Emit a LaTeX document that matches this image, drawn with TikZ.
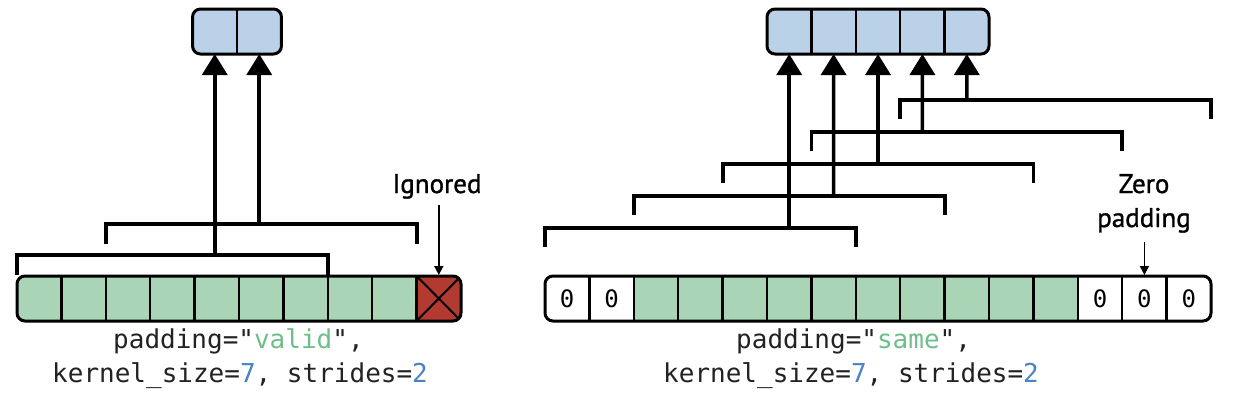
\documentclass[tikz,border=0pt]{standalone}
\usepackage{fontspec}
\usetikzlibrary{arrows.meta}
\newfontfamily\codefont{DejaVu Sans Mono}
\newfontfamily\lblfont[FakeBold=1.2]{PT Sans}
\definecolor{cellgreen}{HTML}{A9D4B6}
\definecolor{cellblue}{HTML}{BBD1E8}
\definecolor{cellred}{HTML}{B23A30}
\definecolor{codegreen}{HTML}{6DBE8A}
\definecolor{codeblue}{HTML}{4A82C6}
\definecolor{codeink}{HTML}{222222}
\begin{document}
\begin{tikzpicture}[x=1pt,y=-1pt,
  cell/.style={inner sep=0pt, outer sep=0pt, minimum width=44.4pt, minimum height=45pt,
    font=\codefont\fontsize{24}{24}\selectfont},
  divider/.style={line width=2.4pt},
  frame/.style={line width=3pt, rounded corners=8pt},
  brk/.style={line width=3.8pt},
  bigarr/.style={line width=3.6pt, -{Triangle[width=25pt,length=21pt]}},
  thinarr/.style={line width=1.6pt, -{Triangle[width=9pt,length=9pt]}},
  code/.style={anchor=base west, inner sep=0pt, text=codeink, font=\codefont\fontsize{26}{26}\selectfont},
  lbl/.style={inner sep=0pt, font=\lblfont\fontsize{27}{33}\selectfont, align=center}
]
\useasboundingbox (0,0) rectangle (1260,413);

% ================= LEFT: valid =================
\begin{scope}
\clip[rounded corners=8pt] (17,276) rectangle (461,321);
\foreach \i in {0,...,8} \node[cell, fill=cellgreen] (L\i) at ({39.2+44.4*\i},298.5) {};
\node[cell, fill=cellred] (L9) at ({39.2+44.4*9},298.5) {};
\draw[line width=2pt] (L9.north west) -- (L9.south east) (L9.south west) -- (L9.north east);
\end{scope}
\foreach \i in {1,...,9} \draw[divider] (L\i.north west) -- (L\i.south west);
\draw[frame] (L0.north west) rectangle (L9.south east);

% output left
\begin{scope}
\clip[rounded corners=8pt] (192.5,9) rectangle (281.5,54);
\node[cell, fill=cellblue] (O0) at (214.75,31.5) {};
\node[cell, fill=cellblue] (O1) at (259.25,31.5) {};
\end{scope}
\draw[divider] (O1.north west) -- (O1.south west);
\draw[frame] (O0.north west) rectangle (O1.south east);

% brackets left
\coordinate (lb1) at (214.75,255);
\coordinate (lb2) at (259.25,224);
\draw[brk] (L0.north west |- 0,275) |- (lb1) -| (L6.north east);
\draw[brk] (L2.north west |- 0,244) |- (lb2) -| (L8.north east |- 0,244);
\draw[bigarr] (lb1) -- (O0.south);
\draw[bigarr] (lb2) -- (O1.south);

% ignored label
\node[lbl, anchor=base] (ign) at (437,193) {Ignored};
\draw[thinarr] (L9.north |- 0,205) -- ([yshift=1pt]L9.north);

% code label left
\node[code] (cl1) at (113,348) {padding="\textcolor{codegreen}{valid}",};
\node[code] (cl2) at (52,382) {kernel\_size=\textcolor{codeblue}{7}, strides=\textcolor{codeblue}{2}};

% ================= RIGHT: same =================
\begin{scope}
\clip[rounded corners=8pt] (545,276) rectangle (1211,321);
\foreach \i in {0,1,12,13,14} \node[cell, fill=white] (R\i) at ({567.2+44.4*\i},298.5) {0};
\foreach \i in {2,...,11} \node[cell, fill=cellgreen] (R\i) at ({567.2+44.4*\i},298.5) {};
\end{scope}
\foreach \i in {1,...,14} \draw[divider] (R\i.north west) -- (R\i.south west);
\draw[frame] (R0.north west) rectangle (R14.south east);

% output right
\begin{scope}
\clip[rounded corners=8pt] (767,9.5) rectangle (989,53.5);
\foreach \i in {0,...,4} \node[cell, fill=cellblue] (P\i) at ({789.2+44.4*\i},31.5) {};
\end{scope}
\foreach \i in {1,...,4} \draw[divider] (P\i.north west) -- (P\i.south west);
\draw[frame] (P0.north west) rectangle (P4.south east);

% brackets right
\coordinate (rb0) at (789.2,228);
\coordinate (rb1) at (833.6,196);
\coordinate (rb2) at (878.0,164);
\coordinate (rb3) at (922.4,132);
\coordinate (rb4) at (966.8,100);
\draw[brk] (R0.north west |- 0,247) |- (rb0) -| (R6.north east |- 0,247);
\draw[brk] (R2.north west |- 0,215) |- (rb1) -| (R8.north east |- 0,215);
\draw[brk] (R4.north west |- 0,183) |- (rb2) -| (R10.north east |- 0,183);
\draw[brk] (R6.north west |- 0,151) |- (rb3) -| (R12.north east |- 0,151);
\draw[brk] (R8.north west |- 0,119) |- (rb4) -| (R14.north east |- 0,119);
\draw[bigarr] (rb0) -- (P0.south);
\draw[bigarr] (rb1) -- (P1.south);
\draw[bigarr] (rb2) -- (P2.south);
\draw[bigarr] (rb3) -- (P3.south);
\draw[bigarr] (rb4) -- (P4.south);

% zero padding label
\node[lbl, anchor=base] (zp) at (1144,193) {Zero};
\node[lbl, anchor=base] (zp2) at (1144,227) {padding};
\draw[thinarr] (R13.north |- 0,242) -- ([yshift=1pt]R13.north);

% code label right
\node[code] (cr1) at (736,348) {padding="\textcolor{codegreen}{same}",};
\node[code] (cr2) at (663,382) {kernel\_size=\textcolor{codeblue}{7}, strides=\textcolor{codeblue}{2}};
\end{tikzpicture}
\end{document}
